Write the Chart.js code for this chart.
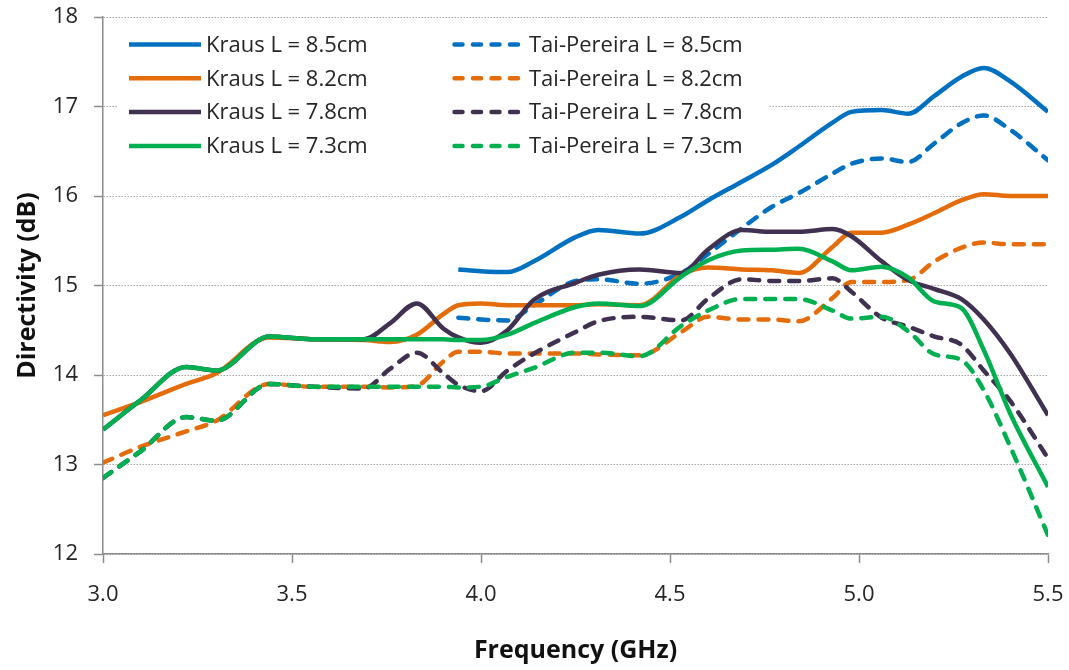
<!DOCTYPE html>
<html>
<head>
<meta charset="utf-8">
<script src="https://cdn.jsdelivr.net/npm/chart.js@4.4.1/dist/chart.umd.min.js"></script>
<style>
  html, body { margin: 0; padding: 0; background: #fff; }
  canvas { display: block; }
</style>
</head>
<body>
<canvas id="chart" width="1069" height="670"></canvas>
<script>
'use strict';
// Frequency points (GHz) shared by every curve
const freq = [3.00, 3.10, 3.22, 3.30, 3.44, 3.55, 3.69, 3.76, 3.83, 3.90, 3.94,
  4.00, 4.07, 4.14, 4.25, 4.31, 4.42, 4.53, 4.60, 4.69, 4.77, 4.84, 4.93, 4.98,
  5.06, 5.13, 5.20, 5.27, 5.33, 5.40, 5.50];

// Directivity (dB) for each antenna length; null = not simulated
const kraus85 = [null, null, null, null, null, null, null, null, null, null, 15.18,
  15.16, 15.15, 15.27, 15.54, 15.62, 15.58, 15.77, 15.95, 16.16, 16.35, 16.55, 16.82, 16.94,
  16.96, 16.92, 17.12, 17.33, 17.43, 17.28, 16.94];
const taiPereira85 = [null, null, null, null, null, null, null, null, null, null, 14.64,
  14.62, 14.61, 14.78, 15.05, 15.07, 15.02, 15.14, 15.35, 15.64, 15.88, 16.03, 16.25, 16.36,
  16.42, 16.38, 16.59, 16.81, 16.90, 16.74, 16.40];
const kraus82 = [13.55, 13.70, 13.90, 14.02, 14.42, 14.40, 14.39, 14.37, 14.45, 14.68, 14.78,
  14.80, 14.78, 14.78, 14.78, 14.79, 14.78, 15.12, 15.20, 15.18, 15.17, 15.14, 15.43, 15.59,
  15.59, 15.68, 15.81, 15.95, 16.02, 16.00, 16.00];
const taiPereira82 = [13.02, 13.20, 13.37, 13.49, 13.90, 13.87, 13.87, 13.86, 13.88, 14.15, 14.26,
  14.26, 14.24, 14.24, 14.24, 14.23, 14.22, 14.48, 14.65, 14.62, 14.62, 14.60, 14.86, 15.04,
  15.04, 15.06, 15.27, 15.42, 15.48, 15.46, 15.46];
const kraus78 = [13.39, 13.72, 14.09, 14.05, 14.43, 14.40, 14.40, 14.58, 14.80, 14.52, 14.42,
  14.36, 14.50, 14.84, 15.03, 15.12, 15.18, 15.14, 15.40, 15.62, 15.60, 15.60, 15.63, 15.55,
  15.27, 15.06, 14.96, 14.85, 14.62, 14.24, 13.55];
const taiPereira78 = [12.85, 13.15, 13.53, 13.49, 13.90, 13.87, 13.85, 14.07, 14.25, 14.02, 13.89,
  13.82, 14.05, 14.24, 14.48, 14.60, 14.65, 14.61, 14.85, 15.07, 15.05, 15.05, 15.08, 14.93,
  14.64, 14.54, 14.43, 14.34, 14.05, 13.71, 13.07];
const kraus73 = [13.39, 13.72, 14.09, 14.05, 14.43, 14.40, 14.40, 14.40, 14.40, 14.40, 14.39,
  14.39, 14.45, 14.58, 14.76, 14.80, 14.77, 15.10, 15.28, 15.39, 15.40, 15.41, 15.27, 15.17,
  15.21, 15.09, 14.82, 14.75, 14.28, 13.57, 12.75];
const taiPereira73 = [12.85, 13.15, 13.53, 13.49, 13.90, 13.87, 13.87, 13.87, 13.87, 13.87, 13.86,
  13.87, 13.98, 14.08, 14.25, 14.25, 14.21, 14.55, 14.72, 14.85, 14.85, 14.85, 14.72, 14.63,
  14.65, 14.49, 14.23, 14.17, 13.83, 13.20, 12.21];

const seriesNames = [
  'Kraus L = 8.5cm', 'Tai-Pereira L = 8.5cm',
  'Kraus L = 8.2cm', 'Tai-Pereira L = 8.2cm',
  'Kraus L = 7.8cm', 'Tai-Pereira L = 7.8cm',
  'Kraus L = 7.3cm', 'Tai-Pereira L = 7.3cm'
];
const seriesValues = [kraus85, taiPereira85, kraus82, taiPereira82,
  kraus78, taiPereira78, kraus73, taiPereira73];

const xTicks = [3.0, 3.5, 4.0, 4.5, 5.0, 5.5];
const yTicks = [12, 13, 14, 15, 16, 17, 18];

const colors = ['#0070C0', '#0070C0', '#E46C0A', '#E46C0A',
  '#403151', '#403151', '#00B050', '#00B050'];

const FONT = '"Open Sans", "Noto Sans", sans-serif';
const LINE_W = 4.5;
const DASH = [10, 10];

const datasets = seriesValues.map((vals, i) => ({
  label: seriesNames[i],
  data: freq.map((f, j) => ({ x: f, y: vals[j] })).filter(p => p.y !== null),
  borderColor: colors[i],
  backgroundColor: colors[i],
  borderWidth: LINE_W,
  borderDash: i % 2 ? DASH : [],
  borderCapStyle: i % 2 ? 'round' : 'butt',
  borderJoinStyle: 'round',
  cubicInterpolationMode: 'monotone',
  pointRadius: 0,
  fill: false,
  order: seriesNames.length - i // later series painted on top
}));

// two-column legend box inside the plot, painted over the gridlines
const boxLegend = {
  id: 'boxLegend',
  beforeDatasetsDraw(chart) {
    const { ctx, chartArea } = chart;
    const left = chartArea.left;
    ctx.save();
    ctx.fillStyle = '#fff';
    ctx.fillRect(left + 15, 25, 650, 137);
    ctx.font = '22px ' + FONT;
    ctx.textBaseline = 'middle';
    ctx.fillStyle = '#262626';
    chart.data.datasets.forEach((ds, i) => {
      const col = i % 2;
      const row = Math.floor(i / 2);
      const x0 = left + (col ? 349 : 26);
      const y = 44.5 + row * 33.8;
      ctx.lineWidth = LINE_W;
      ctx.strokeStyle = ds.borderColor;
      ctx.lineCap = col ? 'round' : 'butt';
      ctx.setLineDash(col ? [8, 10.5] : []);
      ctx.beginPath();
      ctx.moveTo(x0 + (col ? 2.5 : 0), y);
      ctx.lineTo(x0 + 72, y);
      ctx.stroke();
      ctx.setLineDash([]);
      ctx.fillText(ds.label, x0 + 77, y + 1);
    });
    ctx.restore();
  }
};

const config = {
  type: 'line',
  data: { datasets },
  options: {
    responsive: false,
    animation: false,
    layout: { padding: { top: 17, right: 21, left: 0, bottom: 0 } },
    plugins: { legend: { display: false }, tooltip: { enabled: false } },
    scales: {
      x: {
        type: 'linear',
        min: 3.0,
        max: 5.5,
        afterBuildTicks: scale => { scale.ticks = xTicks.map(v => ({ value: v })); },
        afterFit: scale => {
          scale.height = 116;
          scale.paddingLeft = 0;
          scale.paddingRight = 0;
        },
        ticks: {
          callback: v => v.toFixed(1),
          color: '#262626',
          font: { family: FONT, size: 22 },
          padding: 19,
          maxRotation: 0
        },
        grid: { drawOnChartArea: false, drawTicks: true, tickLength: 9, tickColor: '#8c8c8c', tickWidth: 1.5 },
        border: { color: '#8c8c8c', width: 1.5 },
        title: {
          display: true,
          text: 'Frequency (GHz)',
          color: '#111',
          font: { family: FONT, size: 25, weight: 'bold' },
          padding: { top: 0, bottom: 4 }
        }
      },
      y: {
        min: 12,
        max: 18,
        afterBuildTicks: scale => { scale.ticks = yTicks.map(v => ({ value: v })); },
        afterFit: scale => {
          scale.width = 103;
          scale.paddingTop = 0;
          scale.paddingBottom = 0;
        },
        ticks: {
          color: '#262626',
          font: { family: FONT, size: 22 },
          padding: 16
        },
        grid: {
          color: '#a6a6a6',
          lineWidth: 1,
          drawTicks: true,
          tickLength: 9,
          tickColor: '#8c8c8c',
          tickWidth: 1.5,
          tickBorderDash: []
        },
        border: { color: '#8c8c8c', width: 1.5, dash: [1.5, 1.5] },
        title: {
          display: true,
          text: 'Directivity (dB)',
          color: '#111',
          font: { family: FONT, size: 25, weight: 'bold' },
          padding: { top: 13, bottom: 0 }
        }
      }
    }
  },
  plugins: [boxLegend]
};

const canvasElem = document.getElementById('chart');
const myChart = new Chart(canvasElem, config);
</script>
</body>
</html>
